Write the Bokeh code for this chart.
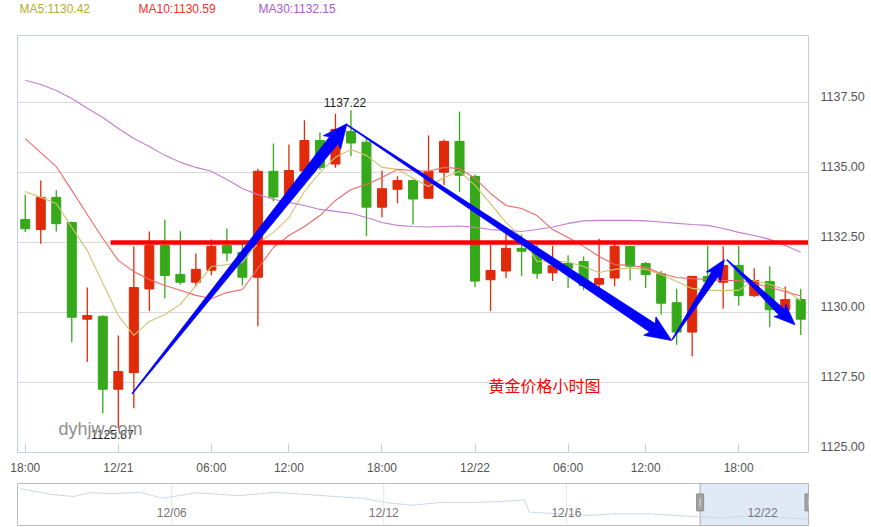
import math
from bokeh.plotting import figure
from bokeh.layouts import column
from bokeh.models import FixedTicker, Label, ColumnDataSource
from bokeh.embed import file_html
from bokeh.resources import INLINE
from bokeh.core.properties import value

# ---------------- data (hourly candles) ----------------
opens = [1133.32, 1132.96, 1134.11, 1133.21, 1129.76, 1129.86, 1127.26, 1127.85, 1130.84, 1132.39,
         1131.36, 1131.08, 1131.51, 1132.39, 1132.14, 1131.26, 1135.04, 1134.18, 1135.05, 1136.14,
         1135.30, 1136.46, 1136.08, 1133.76, 1134.40, 1134.71, 1134.08, 1135.01, 1136.11, 1134.86,
         1131.17, 1131.48, 1132.29, 1132.18, 1131.42, 1131.75, 1131.82, 1131.01, 1131.23, 1132.36,
         1131.75, 1131.38, 1130.35, 1129.30, 1131.29, 1131.08, 1131.68, 1130.60, 1131.11, 1130.10,
         1130.46]
highs = [1134.20, 1134.71, 1134.36, 1133.25, 1130.89, 1129.90, 1129.18, 1132.36, 1132.89, 1133.32,
         1132.90, 1132.11, 1132.61, 1133.00, 1132.57, 1135.13, 1136.03, 1136.00, 1136.86, 1136.43,
         1137.10, 1137.22, 1136.23, 1135.07, 1134.86, 1134.75, 1136.32, 1136.18, 1137.18, 1134.93,
         1132.43, 1132.85, 1132.78, 1132.40, 1132.38, 1132.04, 1132.00, 1132.63, 1132.46, 1132.36,
         1131.80, 1131.48, 1130.85, 1131.30, 1132.38, 1132.36, 1132.38, 1131.58, 1131.65, 1130.93,
         1130.85]
lows = [1132.87, 1132.45, 1132.89, 1128.94, 1128.23, 1126.40, 1125.87, 1126.58, 1130.05, 1130.51,
        1131.00, 1130.94, 1131.33, 1131.83, 1130.96, 1129.51, 1133.96, 1134.00, 1135.00, 1135.10,
        1135.17, 1135.58, 1132.73, 1133.40, 1133.90, 1133.14, 1134.05, 1134.54, 1134.30, 1130.90,
        1130.05, 1131.23, 1131.30, 1131.20, 1131.12, 1130.87, 1130.79, 1130.85, 1130.94, 1131.14,
        1130.87, 1129.92, 1128.85, 1128.44, 1131.10, 1130.13, 1130.24, 1130.55, 1129.47, 1130.00,
        1129.20]
closes = [1132.99, 1134.11, 1133.17, 1129.83, 1129.89, 1127.26, 1127.89, 1130.89, 1132.39, 1131.32,
          1131.08, 1131.54, 1132.36, 1132.12, 1131.26, 1135.04, 1134.12, 1135.07, 1136.14, 1135.18,
          1136.54, 1136.05, 1133.76, 1134.42, 1134.71, 1134.05, 1135.04, 1136.11, 1134.90, 1131.12,
          1131.50, 1132.29, 1132.19, 1131.40, 1131.67, 1131.58, 1130.96, 1131.21, 1132.36, 1131.65,
          1131.35, 1130.33, 1129.30, 1131.29, 1131.11, 1131.68, 1130.60, 1131.14, 1130.10, 1130.46,
          1129.76]

ma5 = [1134.32, 1134.11, 1133.89, 1133.04, 1132.21, 1131.04, 1129.89, 1129.18, 1129.68, 1129.93,
       1130.29, 1130.96, 1131.64, 1131.71, 1131.79, 1132.46, 1132.86, 1133.39, 1134.32, 1135.00,
       1135.54, 1135.82, 1135.61, 1135.18, 1135.11, 1134.79, 1134.50, 1134.82, 1135.04, 1134.54,
       1133.89, 1133.21, 1132.68, 1131.82, 1131.84, 1131.80, 1131.64, 1131.43, 1131.54, 1131.59,
       1131.54, 1131.36, 1131.11, 1130.86, 1130.79, 1130.79, 1130.79, 1131.14, 1131.00, 1130.82,
       1130.42]
ma10 = [1136.21, 1135.71, 1135.21, 1134.36, 1133.50, 1132.64, 1131.86, 1131.46, 1131.18, 1130.96,
        1130.79, 1130.61, 1130.50, 1130.71, 1130.82, 1131.57, 1132.32, 1132.75, 1133.07, 1133.46,
        1134.00, 1134.39, 1134.57, 1134.82, 1135.11, 1135.07, 1135.04, 1135.18, 1135.14, 1134.79,
        1134.25, 1133.82, 1133.71, 1133.46, 1132.96, 1132.68, 1132.36, 1132.00, 1131.71, 1131.68,
        1131.61, 1131.39, 1131.25, 1131.21, 1131.18, 1131.14, 1131.14, 1131.04, 1130.89, 1130.75,
        1130.59]
ma30 = [1138.29, 1138.14, 1137.93, 1137.64, 1137.29, 1136.96, 1136.57, 1136.21, 1135.93, 1135.61,
        1135.36, 1135.18, 1135.04, 1134.75, 1134.43, 1134.21, 1134.04, 1133.93, 1133.82, 1133.68,
        1133.61, 1133.54, 1133.39, 1133.21, 1133.11, 1133.07, 1133.05, 1133.07, 1133.09, 1133.04,
        1132.96, 1132.93, 1132.89, 1132.96, 1133.05, 1133.18, 1133.27, 1133.29, 1133.29, 1133.29,
        1133.27, 1133.23, 1133.18, 1133.14, 1133.11, 1133.00, 1132.86, 1132.75, 1132.61, 1132.39,
        1132.15]

tick_pos = [0, 6, 12, 17, 23, 29, 35, 40, 46]
tick_labels = ["18:00", "12/21", "06:00", "12:00", "18:00", "12/22", "06:00", "12:00", "18:00"]
price_ticks = [1125.0, 1127.5, 1130.0, 1132.5, 1135.0, 1137.5]

legend_names = ["MA5", "MA10", "MA30"]
legend_values = [1130.42, 1130.59, 1132.15]

hline_price = 1132.5
hline_from = 5.5

arrow_x0 = [6.89, 20.74, 41.71, 45.24]
arrow_y0 = [1127.10, 1136.70, 1129.03, 1131.88]
arrow_x1 = [20.74, 41.67, 45.07, 49.63]
arrow_y1 = [1136.74, 1129.00, 1131.88, 1129.56]

high_idx = 21
low_idx = 6

# navigator (overview of a longer period, relative level 0..1)
nav_x = [0.3, 4.2, 7.1, 9.1, 12.0, 15.5, 18.3, 19.7, 22.6, 28.1, 32.4, 36.6, 40.1, 43.6, 46.4,
         49.9, 53.5, 57.8, 61.3, 64.1, 64.7, 68.3, 72.5, 75.4, 79.6, 85.9, 89.4, 92.9, 100.0]
nav_level = [0.88, 0.74, 0.69, 0.78, 0.76, 0.79, 0.65, 0.69, 0.78, 0.71, 0.79, 0.74, 0.69, 0.65, 0.55,
             0.48, 0.55, 0.55, 0.57, 0.61, 0.32, 0.28, 0.24, 0.28, 0.28, 0.21, 0.18, 0.24, 0.15]
nav_tick_pos = [19.5, 46.3, 69.4, 94.2]
nav_tick_labels = ["12/06", "12/12", "12/16", "12/22"]
nav_sel = [86.3, 100.0]

# ---------------- styles ----------------
UP = "#e02a0a"
DOWN = "#35a919"
AXIS_C = "#c5d0dc"
TXT_C = "#555555"
FONT = "Liberation Sans"
W = 871
LEFT = 17

X0R, X1R = -0.5, 50.5
Y0R, Y1R = 1125.0, 1139.89
FRAME_W, FRAME_H = 791, 417

# ---------------- header with MA values ----------------
# (the column layout aligns this frame with the chart frame, so map page x directly)
head = figure(width=W, height=35, x_range=(LEFT, LEFT + FRAME_W), y_range=(0, 35),
              toolbar_location=None, output_backend="svg", min_border_left=LEFT,
              min_border_right=W - LEFT - FRAME_W, min_border_top=0,
              min_border_bottom=0, x_axis_location=None, y_axis_location=None)
head.grid.visible = False
head.outline_line_color = None
leg_x = [19, 138, 258]
leg_colors = ["#b3ad2e", "#f4302c", "#a85dc2"]
head.text(x=leg_x, y=[27, 27, 27],
          text=["%s:%.2f" % (n, v) for n, v in zip(legend_names, legend_values)],
          text_color=leg_colors, text_baseline="middle", text_align="left",
          text_font=value(FONT), text_font_size="12px")

# ---------------- main chart ----------------
p = figure(width=W, height=446, x_range=(X0R, X1R), y_range=(Y0R, Y1R),
           y_axis_location="right", toolbar_location=None, output_backend="svg",
           min_border_left=LEFT, min_border_right=W - LEFT - FRAME_W, min_border_top=0,
           min_border_bottom=446 - FRAME_H)
p.outline_line_color = AXIS_C
p.xgrid.visible = False
p.ygrid.ticker = FixedTicker(ticks=price_ticks)
p.ygrid.grid_line_color = "#dadada"

xa = p.xaxis[0]
xa.ticker = FixedTicker(ticks=tick_pos)
xa.major_label_overrides = {t: l for t, l in zip(tick_pos, tick_labels)}
xa.major_tick_in = 9
xa.major_tick_out = 0
xa.minor_tick_line_color = None
xa.axis_line_color = AXIS_C
xa.major_tick_line_color = AXIS_C
xa.major_label_standoff = 8
xa.major_label_text_font = FONT
xa.major_label_text_font_size = "12px"
xa.major_label_text_color = TXT_C

# price labels sit a little above their grid lines: place them 6px higher
ky = FRAME_H / (Y1R - Y0R)
kx = FRAME_W / (X1R - X0R)
lab_shift = 6 / ky
ya = p.yaxis[0]
label_ticks = [t + lab_shift for t in price_ticks]
ya.ticker = FixedTicker(ticks=label_ticks)
ya.major_label_overrides = {lt: "%.2f" % t for lt, t in zip(label_ticks, price_ticks)}
ya.major_tick_in = 0
ya.major_tick_out = 0
ya.minor_tick_line_color = None
ya.axis_line_color = AXIS_C
ya.major_label_standoff = 12
ya.major_label_text_font = FONT
ya.major_label_text_font_size = "12.5px"
ya.major_label_text_color = TXT_C

idx = list(range(len(opens)))
colors = [UP if c >= o else DOWN for o, c in zip(opens, closes)]
src = ColumnDataSource(dict(x=idx, o=opens, h=highs, l=lows, c=closes,
                            top=[max(o, c) for o, c in zip(opens, closes)],
                            bot=[min(o, c) for o, c in zip(opens, closes)],
                            color=colors))
p.segment(x0="x", y0="l", x1="x", y1="h", line_color="color", line_width=1.3, source=src)
p.vbar(x="x", width=0.58, top="top", bottom="bot", fill_color="color", line_color="color", source=src)

p.line(idx, ma5, line_color="#cdc470", line_width=1.1)
p.line(idx, ma10, line_color="#f26868", line_width=1.1)
p.line(idx, ma30, line_color="#c57ed2", line_width=1.1)

# red resistance line
p.line([hline_from, X1R], [hline_price, hline_price], line_color="#ff0000", line_width=4.5)

# blue tapered arrows
shaft_w = [11, 10, 8, 8]
head_w = [22, 22, 17, 17]
head_len = [21, 23, 17, 18]


def arrow_poly(xs, ys, xe, ye, w_end, hw, hl, w_start=0.8):
    X0, Y0 = xs * kx, ys * ky
    X1, Y1 = xe * kx, ye * ky
    dx, dy = X1 - X0, Y1 - Y0
    L = math.hypot(dx, dy)
    ux, uy = dx / L, dy / L
    nx, ny = -uy, ux
    bx, by = X1 - ux * hl, Y1 - uy * hl
    bx2, by2 = bx - ux * 3, by - uy * 3
    pts = [(X0 + nx * w_start / 2, Y0 + ny * w_start / 2),
           (bx + nx * w_end / 2, by + ny * w_end / 2),
           (bx2 + nx * hw / 2, by2 + ny * hw / 2),
           (X1, Y1),
           (bx2 - nx * hw / 2, by2 - ny * hw / 2),
           (bx - nx * w_end / 2, by - ny * w_end / 2),
           (X0 - nx * w_start / 2, Y0 - ny * w_start / 2)]
    return [q[0] / kx for q in pts], [q[1] / ky for q in pts]


axs, ays = [], []
for i in range(len(arrow_x0)):
    a, b = arrow_poly(arrow_x0[i], arrow_y0[i], arrow_x1[i], arrow_y1[i],
                      shaft_w[i], head_w[i], head_len[i])
    axs.append(a)
    ays.append(b)
p.patches(axs, ays, fill_color="#0000ff", line_color="#0000ff", line_width=0.8)

# high / low labels
p.text(x=[high_idx], y=[highs[high_idx]], text=["%.2f" % highs[high_idx]],
       text_align="center", text_baseline="bottom", x_offset=-6, y_offset=-3,
       text_font=value(FONT), text_font_size="12px", text_color="#222222")
p.text(x=[low_idx], y=[lows[low_idx]], text=["%.2f" % lows[low_idx]],
       text_align="center", text_baseline="top", x_offset=-6, y_offset=2,
       text_font=value(FONT), text_font_size="12px", text_color="#222222")

# watermark and caption
p.add_layout(Label(x=41, y=24, x_units="screen", y_units="screen", text="dyhjw.com",
                   text_font=FONT, text_font_size="18px", text_color="#8e8e8e",
                   text_baseline="alphabetic"))
p.add_layout(Label(x=471, y=68, x_units="screen", y_units="screen", text="黄金价格小时图",
                   text_font="Noto Sans CJK SC", text_font_size="16px", text_color="#ff0000",
                   text_baseline="middle"))

# ---------------- navigator ----------------
NAV_W = 794
nav = figure(width=W, height=46, x_range=(0, 100), y_range=(0, 1),
             toolbar_location=None, output_backend="svg",
             min_border_left=LEFT, min_border_right=W - LEFT - NAV_W, min_border_top=2,
             min_border_bottom=2, x_axis_location=None, y_axis_location=None)
nav.grid.visible = False
nav.outline_line_color = "#bdbdbd"
nav.segment(x0=nav_tick_pos, y0=[0] * 4, x1=nav_tick_pos, y1=[1] * 4,
            line_color="#e6e6e6", line_width=1)
nav.quad(left=[nav_sel[0]], right=[nav_sel[1]], bottom=[0], top=[1],
         fill_color="#dde8f6", fill_alpha=0.9, line_color="#a8a8a8", line_width=1)
nav.line(nav_x, nav_level, line_color="#cdd8e6", line_width=1)
nav.text(x=nav_tick_pos, y=[0.29] * 4, text=nav_tick_labels, text_align="center",
         text_baseline="middle", text_font=value(FONT), text_font_size="12px",
         text_color="#777777")
nav.rect(x=nav_sel, y=[0.55, 0.55], width=7, height=17, width_units="screen",
         height_units="screen", fill_color="#a2a2a2", line_color="#8c8c8c")
nav.segment(x0=nav_sel, y0=[0.45, 0.45], x1=nav_sel, y1=[0.65, 0.65],
            line_color="#dcdcdc", line_width=1)

layout = column(head, p, nav, spacing=0)
open("out.html", "w").write(file_html(layout, INLINE))
